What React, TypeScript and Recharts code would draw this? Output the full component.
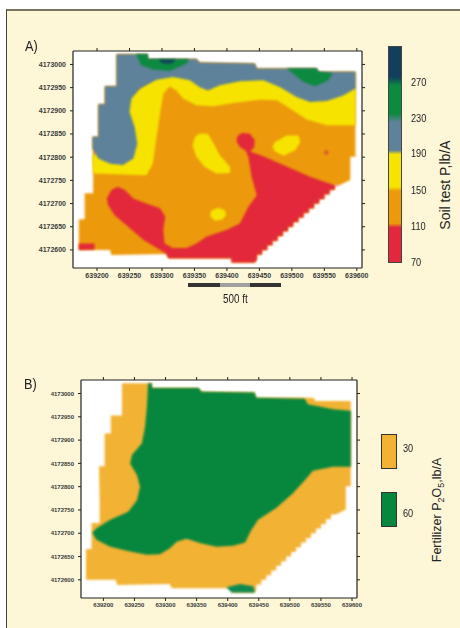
import * as React from "react";
import { CartesianGrid, Scatter, ScatterChart, XAxis, YAxis } from "recharts";

type Vertex = [number, number];

const xTicks = [639200, 639250, 639300, 639350, 639400, 639450, 639500, 639550, 639600];
const yTicks = [4172600, 4172650, 4172700, 4172750, 4172800, 4172850, 4172900, 4172950, 4173000];
const soilLevels = [270, 230, 190, 150, 110, 70];
const fertilizerLevels = [30, 60];

// field boundary, easting / northing
const fieldTop: Vertex[] = [
  [639230, 4173022], [639278, 4173022], [639278, 4173012], [639353, 4173012], [639358, 4173004],
  [639443, 4173002], [639446, 4172991], [639538, 4172991], [639541, 4172984], [639598, 4172984],
];
const fieldRight: Vertex[] = [[639598, 4172801], [639590, 4172801], [639590, 4172751]];
const fieldDiagonal: Vertex[] = [
  [639574, 4172740], [639566, 4172740], [639566, 4172730], [639558, 4172730], [639558, 4172720],
  [639550, 4172720], [639550, 4172710], [639542, 4172710], [639542, 4172700], [639534, 4172700],
  [639534, 4172690], [639526, 4172690], [639526, 4172680], [639518, 4172680], [639518, 4172670],
  [639510, 4172670], [639510, 4172660], [639502, 4172660], [639502, 4172650], [639494, 4172650],
  [639494, 4172640], [639486, 4172640], [639486, 4172630], [639478, 4172630], [639478, 4172620],
  [639470, 4172620], [639470, 4172610], [639462, 4172610], [639462, 4172600], [639454, 4172600],
  [639454, 4172590], [639446, 4172590], [639446, 4172579],
];
const fieldBottom: Vertex[] = [
  [639443, 4172573], [639407, 4172573], [639407, 4172582], [639310, 4172582], [639307, 4172591],
  [639222, 4172589], [639220, 4172600], [639172, 4172600], [639172, 4172666], [639181, 4172666],
  [639181, 4172722], [639194, 4172722], [639194, 4172765],
];
const fieldLeft: Vertex[] = [
  [639193, 4172844], [639202, 4172844], [639202, 4172914], [639212, 4172914], [639212, 4172953], [639230, 4172953],
];
const fieldOutline = [...fieldTop, ...fieldRight, ...fieldDiagonal, ...fieldBottom, ...fieldLeft];

// A) soil test contours
const soilYellow: Vertex[] = [
  [639193, 4172804], [639194, 4172765], [639276, 4172761], [639286, 4172786], [639291, 4172837],
  [639297, 4172894], [639302, 4172937], [639312, 4172953], [639322, 4172944], [639333, 4172926],
  [639353, 4172912], [639379, 4172910], [639410, 4172917], [639451, 4172924], [639477, 4172923],
  [639497, 4172905], [639523, 4172881], [639554, 4172869], [639598, 4172869], [639598, 4172948],
  [639461, 4172985], [639307, 4172990], [639240, 4172920], [639235, 4172858], [639204, 4172808],
];
const soilBlueEdge: Vertex[] = [
  [639598, 4172948], [639579, 4172933], [639554, 4172921], [639528, 4172919], [639507, 4172930],
  [639482, 4172951], [639456, 4172966], [639420, 4172964], [639389, 4172955], [639371, 4172944],
  [639358, 4172951], [639343, 4172966], [639317, 4172973], [639292, 4172967], [639266, 4172948],
  [639253, 4172926], [639250, 4172898], [639258, 4172865], [639262, 4172829], [639256, 4172797],
  [639240, 4172783], [639220, 4172786], [639202, 4172797], [639193, 4172819],
];
const soilBlue = [...fieldTop, ...soilBlueEdge, ...fieldLeft];
const soilGreenWest: Vertex[] = [
  [639260, 4173022], [639278, 4173022], [639278, 4173012], [639342, 4173011], [639338, 4173002],
  [639312, 4172986], [639286, 4172989], [639268, 4172998],
];
const soilGreenEast: Vertex[] = [
  [639492, 4172991], [639538, 4172991], [639541, 4172984], [639563, 4172981], [639556, 4172966],
  [639536, 4172953], [639518, 4172962], [639502, 4172980],
];
const soilNavy: Vertex[] = [[639294, 4173010], [639321, 4173010], [639315, 4173002], [639302, 4173002]];
const soilYellowBlobs: Vertex[][] = [
  [
    [639358, 4172851], [639371, 4172850], [639381, 4172826], [639389, 4172804], [639405, 4172779], [639405, 4172766],
    [639384, 4172765], [639366, 4172779], [639353, 4172801], [639347, 4172826], [639351, 4172844],
  ],
  [
    [639474, 4172833], [639492, 4172847], [639510, 4172847], [639513, 4172833], [639505, 4172815],
    [639487, 4172803], [639474, 4172812], [639470, 4172822],
  ],
  [
    [639387, 4172691], [639397, 4172685], [639399, 4172675], [639392, 4172665],
    [639381, 4172663], [639374, 4172673], [639376, 4172685],
  ],
];
const soilRedEast: Vertex[] = [
  [639423, 4172852], [639435, 4172851], [639443, 4172837], [639442, 4172822], [639436, 4172812],
  [639456, 4172802], [639487, 4172783], [639528, 4172758], [639569, 4172738],
];
const soilRedWest: Vertex[] = [
  [639443, 4172573], [639407, 4172573], [639407, 4172582], [639310, 4172582], [639306, 4172593], [639292, 4172604],
  [639271, 4172622], [639248, 4172650], [639227, 4172675], [639217, 4172697], [639215, 4172711],
  [639222, 4172729], [639232, 4172736], [639243, 4172729], [639256, 4172711], [639276, 4172700],
  [639297, 4172690], [639305, 4172672], [639302, 4172643], [639304, 4172614], [639317, 4172604],
  [639338, 4172604], [639353, 4172614], [639369, 4172629], [639399, 4172643], [639420, 4172657],
  [639433, 4172693], [639446, 4172718], [639438, 4172758], [639433, 4172801], [639429, 4172814],
  [639420, 4172822], [639415, 4172833], [639416, 4172845],
];
const soilRed = [...soilRedEast, ...fieldDiagonal, ...soilRedWest];
const soilRedCorner: Vertex[] = [[639172, 4172614], [639196, 4172614], [639196, 4172601], [639172, 4172600]];
const soilRedSpot: Vertex[] = [[639553, 4172816], [639557, 4172810], [639553, 4172804], [639549, 4172810]];

// B) fertilizer zones
const fertGreen: Vertex[] = [
  [639272, 4173022], [639278, 4173022], [639278, 4173012], [639353, 4173012], [639358, 4173004],
  [639443, 4173002], [639446, 4172991], [639524, 4172989], [639529, 4172977], [639570, 4172966],
  [639598, 4172963], [639598, 4172843], [639569, 4172843], [639537, 4172834], [639524, 4172814],
  [639505, 4172786], [639478, 4172754], [639449, 4172729], [639438, 4172707], [639428, 4172680],
  [639409, 4172673], [639382, 4172671], [639355, 4172679], [639334, 4172688], [639318, 4172682],
  [639307, 4172668], [639291, 4172655], [639270, 4172654], [639243, 4172661], [639211, 4172671],
  [639189, 4172686], [639182, 4172701], [639189, 4172711], [639211, 4172729], [639240, 4172746],
  [639254, 4172771], [639259, 4172800], [639254, 4172825], [639243, 4172850], [639246, 4172868],
  [639262, 4172893], [639267, 4172928], [639270, 4172971],
];
const fertGreenSouth: Vertex[] = [
  [639398, 4172584], [639420, 4172591], [639441, 4172586], [639444, 4172573], [639406, 4172573],
];

const toPoints = (vertices: Vertex[]) => vertices.map(([x, y]) => ({ x, y }));
const noMarker = () => <g />;

const CREAM = "#fdf7d7";
const AXIS = "#222";
const FONT = '"Liberation Sans", sans-serif';

interface Region {
  vertices: Vertex[];
  color: string;
}

const soilRegions: Region[] = [
  { vertices: fieldOutline, color: "#ec9a0c" },
  { vertices: soilYellow, color: "#f6e300" },
  { vertices: soilBlue, color: "#5e8299" },
  { vertices: soilGreenWest, color: "#0b8a40" },
  { vertices: soilGreenEast, color: "#0b8a40" },
  { vertices: soilNavy, color: "#123f5e" },
  ...soilYellowBlobs.map((vertices) => ({ vertices, color: "#f6e300" })),
  { vertices: soilRed, color: "#e2283a" },
  { vertices: soilRedCorner, color: "#e2283a" },
  { vertices: soilRedSpot, color: "#d8552a" },
];

const fertRegions: Region[] = [
  { vertices: fieldOutline, color: "#f2b233" },
  { vertices: fertGreen, color: "#07873e" },
  { vertices: fertGreenSouth, color: "#0c8a52" },
];

interface FieldMapProps {
  regions: Region[];
  width: number;
  height: number;
  yAxisWidth: number;
  marginTop: number;
  fontSize: number;
  xDomain: [number, number];
  style: React.CSSProperties;
}

function FieldMap({ regions, width, height, yAxisWidth, marginTop, fontSize, xDomain, style }: FieldMapProps) {
  const tickStyle = { fontSize, fontFamily: FONT, fontWeight: 700, fill: "#3a3a3a" };
  const axisLine = { stroke: AXIS, strokeWidth: 1.2 };
  const tickLine = { stroke: AXIS, strokeWidth: 1 };
  return (
    <div className="field-map" style={{ position: "absolute", ...style }}>
      <ScatterChart width={width} height={height} margin={{ top: marginTop, right: 0, bottom: 0, left: 0 }}>
        <CartesianGrid horizontal={false} vertical={false} fill="#ffffff" />
        <XAxis
          type="number"
          dataKey="x"
          domain={xDomain}
          ticks={xTicks}
          height={22}
          allowDataOverflow
          interval={0}
          tickSize={3}
          tickMargin={2}
          tick={tickStyle}
          axisLine={axisLine}
          tickLine={tickLine}
        />
        <XAxis
          xAxisId="top"
          orientation="top"
          type="number"
          dataKey="x"
          domain={xDomain}
          ticks={xTicks}
          height={20}
          allowDataOverflow
          interval={0}
          tickSize={3}
          tickFormatter={() => ""}
          axisLine={axisLine}
          tickLine={tickLine}
        />
        <YAxis
          type="number"
          dataKey="y"
          domain={[4172561, 4173029]}
          ticks={yTicks}
          width={yAxisWidth}
          allowDataOverflow
          interval={0}
          tickSize={3}
          tickMargin={4}
          tick={tickStyle}
          axisLine={axisLine}
          tickLine={tickLine}
        />
        <YAxis
          yAxisId="right"
          orientation="right"
          type="number"
          dataKey="y"
          domain={[4172561, 4173029]}
          ticks={yTicks}
          width={18}
          allowDataOverflow
          interval={0}
          tickSize={3}
          tickFormatter={() => ""}
          axisLine={axisLine}
          tickLine={tickLine}
        />
        {regions.map((region, i) => (
          <Scatter
            key={i}
            data={toPoints(region.vertices)}
            fill={region.color}
            shape={noMarker}
            line={{ fill: region.color, stroke: "none" }}
            lineJointType="linearClosed"
            isAnimationActive={false}
          />
        ))}
      </ScatterChart>
    </div>
  );
}

// the reference sets its labels in a condensed face, so squeeze the sans a bit
const label = (left: number, top: number, fontSize = 11.5, squeeze = 0.8): React.CSSProperties => ({
  position: "absolute",
  left,
  top,
  fontSize,
  lineHeight: `${fontSize}px`,
  fontFamily: FONT,
  color: "#222",
  whiteSpace: "nowrap",
  transform: `scaleX(${squeeze})`,
  transformOrigin: "left center",
});

const rotated = (centerX: number, centerY: number, fontSize: number): React.CSSProperties => ({
  position: "absolute",
  left: centerX,
  top: centerY,
  fontSize,
  fontFamily: FONT,
  color: "#222",
  whiteSpace: "nowrap",
  transform: "translate(-50%, -50%) rotate(-90deg)",
});

const soilBar = `linear-gradient(to bottom,
  #123f5e 0%, #123f5e 14%, #0b8a40 18%, #0b8a40 31%, #5e8299 35%, #5e8299 48%,
  #f6e300 50%, #f6e300 65%, #ec9a0c 67%, #ec9a0c 82%, #e2283a 84%, #e2283a 100%)`;

const soilLabelTops = [77, 113, 148, 185, 221, 257];
const fertLabelTops = [443, 508];

export default function App() {
  return (
    <div style={{ position: "absolute", left: 0, top: 0, width: 460, height: 628, background: "#fff", overflow: "hidden" }}>
      <style>{`.field-map .recharts-curve { filter: blur(0.9px); }`}</style>
      <div
        style={{
          position: "absolute",
          left: 6,
          top: 9,
          width: 454,
          height: 619,
          boxSizing: "border-box",
          background: CREAM,
          borderTop: "2px solid #7a7460",
          borderLeft: "1.5px solid #444",
        }}
      />
      <div style={label(25, 38, 15, 0.85)}>A)</div>
      <FieldMap
        regions={soilRegions}
        width={380}
        height={290}
        yAxisWidth={73}
        marginTop={31}
        fontSize={7}
        xDomain={[639163, 639608]}
        style={{ left: 0, top: 0 }}
      />
      <div style={{ position: "absolute", left: 188, top: 283, width: 93, height: 4, display: "flex" }}>
        <div style={{ width: 32, background: "#333" }} />
        <div style={{ width: 30, background: "#a0a0a0" }} />
        <div style={{ width: 31, background: "#333" }} />
      </div>
      <div style={label(223, 293, 12, 0.82)}>500 ft</div>
      <div
        style={{
          position: "absolute",
          left: 388,
          top: 46,
          width: 14,
          height: 217,
          boxSizing: "border-box",
          border: "1px solid #444",
          background: soilBar,
        }}
      />
      {soilLevels.map((v, i) => (
        <div key={v} style={label(411, soilLabelTops[i])}>
          {v}
        </div>
      ))}
      <div style={rotated(445, 185, 14)}>Soil test P,lb/A</div>

      <div style={label(24, 376, 15, 0.85)}>B)</div>
      <FieldMap
        regions={fertRegions}
        width={375}
        height={280}
        yAxisWidth={81}
        marginTop={20}
        fontSize={6}
        xDomain={[639164, 639608]}
        style={{ left: 0, top: 340 }}
      />
      <div style={{ position: "absolute", left: 381, top: 434, width: 16, height: 35, boxSizing: "border-box", border: "1px solid #333", background: "#f2b233" }} />
      <div style={{ position: "absolute", left: 381, top: 492, width: 16, height: 35, boxSizing: "border-box", border: "1px solid #333", background: "#07873e" }} />
      {fertilizerLevels.map((v, i) => (
        <div key={v} style={label(403, fertLabelTops[i])}>
          {v}
        </div>
      ))}
      <div style={rotated(438, 510, 12.5)}>
        Fertilizer P<sub style={{ fontSize: 9 }}>2</sub>O<sub style={{ fontSize: 9 }}>5</sub>,lb/A
      </div>
    </div>
  );
}
